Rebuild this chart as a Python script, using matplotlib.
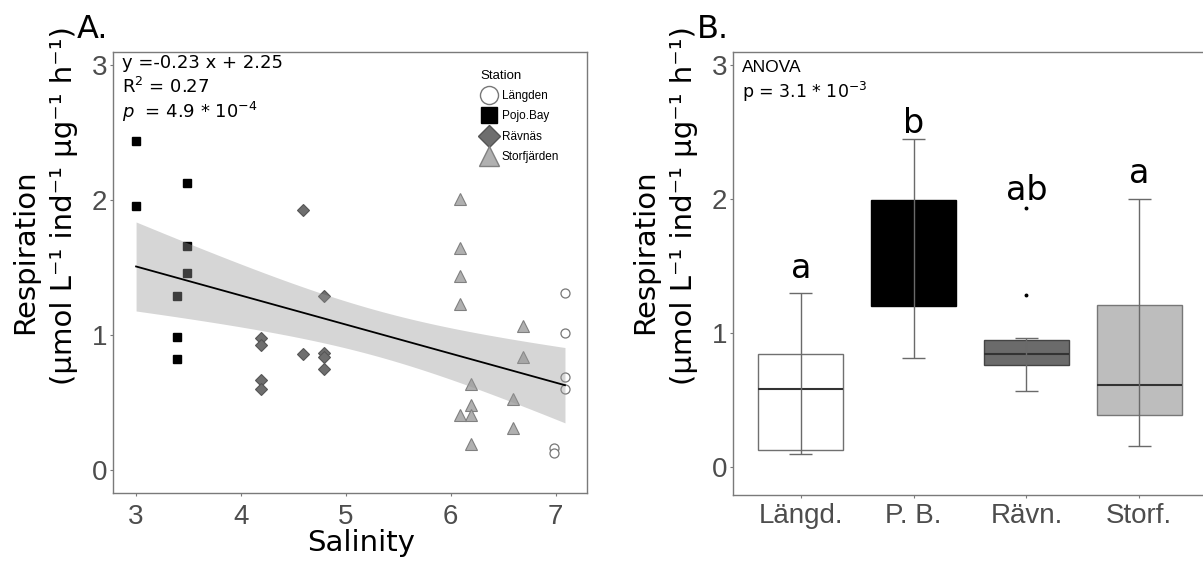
import numpy as np
import matplotlib.pyplot as plt
from matplotlib.lines import Line2D

# Panel A: respiration vs salinity, per station
langden_sal = [7.09, 7.09, 7.09, 7.09, 6.99, 6.99]
langden_resp = [1.31, 1.02, 0.69, 0.60, 0.165, 0.13]
pojo_sal = [3.0, 3.0, 3.49, 3.49, 3.49, 3.39, 3.39, 3.39]
pojo_resp = [2.44, 1.96, 2.13, 1.66, 1.46, 1.29, 0.99, 0.82]
ravnas_sal = [4.59, 4.79, 4.19, 4.19, 4.19, 4.19, 4.59, 4.79, 4.79, 4.79]
ravnas_resp = [1.93, 1.29, 0.98, 0.93, 0.67, 0.60, 0.86, 0.87, 0.84, 0.75]
storf_sal = [6.09, 6.09, 6.09, 6.09, 6.69, 6.69, 6.19, 6.19, 6.19, 6.09, 6.59, 6.59, 6.19]
storf_resp = [2.01, 1.65, 1.44, 1.23, 1.07, 0.84, 0.64, 0.48, 0.41, 0.41, 0.53, 0.31, 0.19]

# Panel B: box statistics per station
cats = ['Längd.', 'P. B.', 'Rävn.', 'Storf.']
box_q1 = [0.13, 1.20, 0.76, 0.39]
box_med = [0.58, 1.60, 0.84, 0.61]
box_q3 = [0.84, 1.99, 0.95, 1.21]
whisk_lo = [0.10, 0.81, 0.57, 0.16]
whisk_hi = [1.30, 2.45, 0.96, 2.00]
fliers = [[], [], [1.93, 1.28], []]
letters = ['a', 'b', 'ab', 'a']
letter_y = [1.41, 2.49, 1.99, 2.12]

W, H = 1203, 562
fig = plt.figure(figsize=(W / 100, H / 100), dpi=100)
axA = fig.add_axes([113 / W, 1 - 493 / H, 474 / W, 441 / H])
axB = fig.add_axes([733 / W, 1 - 495 / H, 474 / W, 443 / H])

tick_font = 'Liberation Sans'
for ax in (axA, axB):
    for s in ax.spines.values():
        s.set_color('#7a7a7a')
        s.set_linewidth(1.0)
    ax.tick_params(length=2, color='#7a7a7a', labelcolor='#4d4d4d', labelsize=20, pad=2)
    ax.set_yticks([0, 1, 2, 3])

# ---- Panel A ----
axA.plot(langden_sal, langden_resp, 'o', ls='', mfc='white', mec='#777777', mew=0.9, ms=6.5, zorder=2)
axA.plot(pojo_sal, pojo_resp, 's', ls='', mfc='black', mec='black', ms=5.5, zorder=2)
axA.plot(ravnas_sal, ravnas_resp, 'D', ls='', mfc='#6e6e6e', mec='#555555', mew=0.8, ms=6.5, zorder=2)
axA.plot(storf_sal, storf_resp, '^', ls='', mfc='#b0b0b0', mec='#808080', mew=0.8, ms=9, zorder=2)

# linear fit with 95% confidence band
x_all = np.array(langden_sal + pojo_sal + ravnas_sal + storf_sal)
y_all = np.array(langden_resp + pojo_resp + ravnas_resp + storf_resp)
slope, inter = np.polyfit(x_all, y_all, 1)
n = len(x_all)
resid = y_all - (slope * x_all + inter)
se = np.sqrt(np.sum(resid ** 2) / (n - 2))
xs = np.linspace(x_all.min(), x_all.max(), 100)
ys = slope * xs + inter
t_crit = 2.03
band = t_crit * se * np.sqrt(1 / n + (xs - x_all.mean()) ** 2 / np.sum((x_all - x_all.mean()) ** 2))
axA.fill_between(xs, ys - band, ys + band, color='#999999', alpha=0.4, lw=0, zorder=3)
axA.plot(xs, ys, color='black', lw=1.3, zorder=4)

axA.set_xlim(2.78, 7.30)
axA.set_ylim(-0.17, 3.1)
axA.set_xticks([3, 4, 5, 6, 7])
axA.tick_params(axis='x', pad=6)
for lab in axA.get_xticklabels() + axA.get_yticklabels():
    lab.set_family(tick_font)

axA.text(0.019, 0.975, 'y =-0.23 x + 2.25', transform=axA.transAxes, fontsize=13, va='center')
axA.text(0.019, 0.921, 'R$^2$ = 0.27', transform=axA.transAxes, fontsize=13, va='center')
axA.text(0.019, 0.864, '$p$  = 4.9 * 10$^{-4}$', transform=axA.transAxes, fontsize=13, va='center')

handles = [
    Line2D([], [], marker='o', ls='', mfc='white', mec='#777777', ms=13),
    Line2D([], [], marker='s', ls='', mfc='black', mec='black', ms=11),
    Line2D([], [], marker='D', ls='', mfc='#6e6e6e', mec='#555555', ms=11),
    Line2D([], [], marker='^', ls='', mfc='#b0b0b0', mec='#808080', ms=14),
]
leg = axA.legend(handles, ['Längden', 'Pojo.Bay', 'Rävnäs', 'Storfjärden'], title='Station',
                 loc='upper left', bbox_to_anchor=(0.765, 0.97), frameon=False,
                 prop={'family': tick_font, 'size': 8.5}, labelspacing=0.7,
                 handletextpad=0.4, handlelength=1.4, borderaxespad=0)
leg.get_title().set_fontfamily(tick_font)
leg.get_title().set_fontsize(9.5)
leg._legend_box.align = 'left'

# ---- Panel B ----
pos = np.arange(1, len(cats) + 1)
box_fc = ['white', 'black', '#6b6b6b', '#bdbdbd']
box_ec = ['#707070', 'black', '#444444', '#777777']
med_c = ['#333333', 'black', '#333333', '#333333']
stats = []
for i in range(len(cats)):
    stats.append({'med': box_med[i], 'q1': box_q1[i], 'q3': box_q3[i],
                  'whislo': whisk_lo[i], 'whishi': whisk_hi[i], 'fliers': fliers[i]})
bp = axB.bxp(stats, positions=pos, widths=0.75, patch_artist=True, showcaps=False,
             whiskerprops={'lw': 0}, medianprops={'lw': 1.5},
             flierprops={'marker': 'o', 'ms': 1.8, 'mfc': 'black', 'mec': 'black'})
for patch, med, fc, ec, mc in zip(bp['boxes'], bp['medians'], box_fc, box_ec, med_c):
    patch.set_facecolor(fc)
    patch.set_edgecolor(ec)
    patch.set_linewidth(1.0)
    med.set_color(mc)
# error-bar style whiskers drawn over the boxes
axB.vlines(pos, whisk_lo, whisk_hi, color='#6a6a6a', lw=1.0, zorder=5)
axB.hlines(whisk_lo, pos - 0.1, pos + 0.1, color='#6a6a6a', lw=1.0, zorder=5)
axB.hlines(whisk_hi, pos - 0.1, pos + 0.1, color='#6a6a6a', lw=1.0, zorder=5)

for p, lt, ly in zip(pos, letters, letter_y):
    axB.text(p, ly, lt, ha='center', va='baseline', fontsize=24)

axB.set_xlim(0.4, 4.6)
axB.set_ylim(-0.209, 3.097)
axB.set_xticks(pos)
axB.set_xticklabels(cats)
axB.tick_params(axis='x', pad=4)
for lab in axB.get_xticklabels() + axB.get_yticklabels():
    lab.set_family(tick_font)

axB.text(0.018, 0.966, 'ANOVA', transform=axB.transAxes, fontsize=12.5, va='center', family=tick_font)
axB.text(0.018, 0.91, 'p = 3.1 * 10$^{-3}$', transform=axB.transAxes, fontsize=12.5, va='center')

# ---- labels ----
fig.text(77 / W, 1 - 38 / H, 'A.', fontsize=23, va='baseline')
fig.text(697 / W, 1 - 38 / H, 'B.', fontsize=23, va='baseline')
fig.text(361 / W, 1 - 543 / H, 'Salinity', fontsize=21, ha='center', va='center')
unit = '(µmol L\u207b\u00b9 ind\u207b\u00b9 µg\u207b\u00b9 h\u207b\u00b9)'
for x1, x2 in ((25, 64), (645, 684)):
    fig.text(x1 / W, 1 - 252 / H, 'Respiration', fontsize=21, rotation=90, ha='center', va='center')
    fig.text(x2 / W, 1 - 206 / H, unit, fontsize=21, rotation=90, ha='center', va='center')

fig.savefig('out.png', dpi=100)
